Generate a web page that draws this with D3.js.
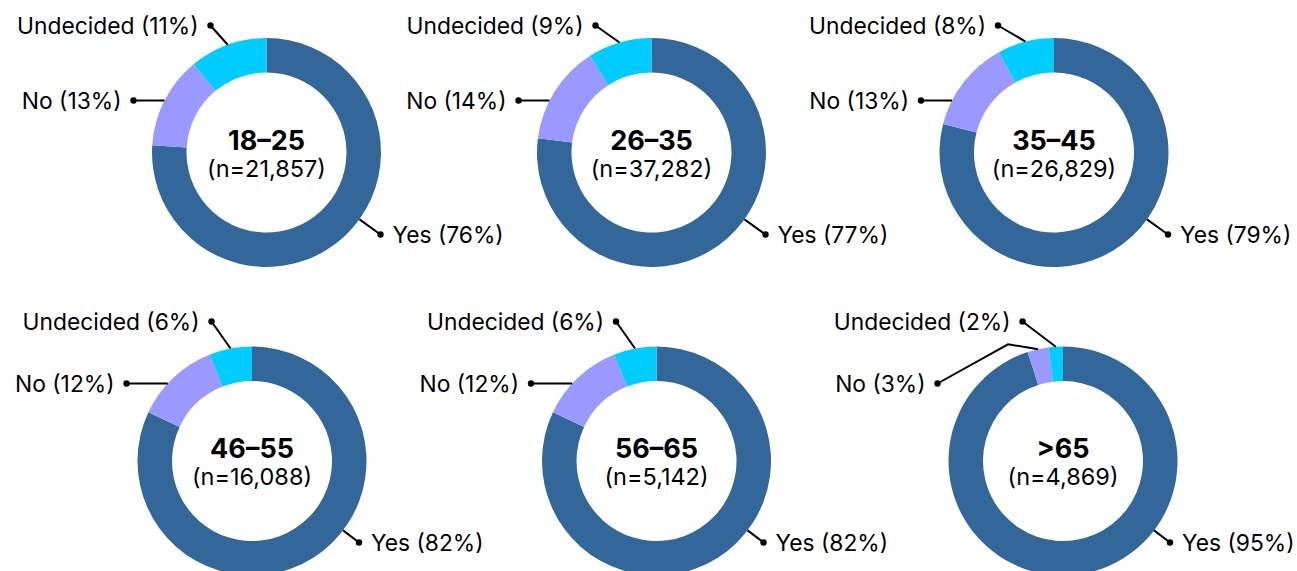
<!DOCTYPE html>
<html>
<head>
<meta charset="utf-8">
<script src="https://cdn.jsdelivr.net/npm/d3@7"></script>
<style>
  html, body { margin: 0; padding: 0; background: #fff; }
  svg { display: block; font-family: Inter, "Noto Sans", sans-serif; }
</style>
</head>
<body>
<script>
// survey answers by age group
const ageGroups = ["18–25", "26–35", "35–45", "46–55", "56–65", ">65"];
const sampleSizes = [21857, 37282, 26829, 16088, 5142, 4869];
const answers = ["Yes", "No", "Undecided"];
const yesShare = [76, 77, 79, 82, 82, 95];
const noShare = [13, 14, 13, 12, 12, 3];
const undecidedShare = [11, 9, 8, 6, 6, 2];
const answerColors = ["#336699", "#9999ff", "#00ccff"];

document.addEventListener("DOMContentLoaded", function () {
    const width = 1297;
    const height = 571;
    const outerR = 114.5;
    const innerR = 80;

    // where each donut sits
    const centerX = [266.5, 651.5, 1054, 252, 656.5, 1063];
    const rowY = [152.5, 461];
    // label dot offsets from the centre, per row
    const labelSpots = [
        { Yes: [114, 82], No: [-133, -52], Undecided: [-56, -127] },
        { Yes: [107, 81.5], No: [-125.5, -77.5], Undecided: [-40.5, -139.5] }
    ];

    const color = d3.scaleOrdinal().domain(answers).range(answerColors);
    const fmt = d3.format(",");

    const pie = d3.pie()
        .sort(null)
        .value(d => d.value);

    const arc = d3.arc()
        .innerRadius(innerR)
        .outerRadius(outerR);

    const svg = d3.select("body").append("svg")
        .attr("width", width)
        .attr("height", height)
        .attr("viewBox", `0 0 ${width} ${height}`);

    const charts = ageGroups.map((g, i) => ({
        group: g,
        n: sampleSizes[i],
        row: i < 3 ? 0 : 1,
        x: centerX[i],
        values: [
            { answer: "Yes", value: yesShare[i] },
            { answer: "No", value: noShare[i] },
            { answer: "Undecided", value: undecidedShare[i] }
        ]
    }));

    // where the leader line touches the ring
    const anchorFor = (slice, dot, side) => {
        const [dx, dy] = dot;
        if (side === "right") {
            const k = outerR / Math.hypot(dx, dy);
            return [[dx * k, dy * k]];
        }
        if (Math.abs(dy) < outerR) {
            const hx = -Math.sqrt(outerR * outerR - dy * dy);
            let a = Math.atan2(hx, -dy);
            if (a < 0) a += 2 * Math.PI;
            if (a >= slice.startAngle && a <= slice.endAngle) return [[hx, dy]];
        }
        const mid = (slice.startAngle + slice.endAngle) / 2;
        const ax = outerR * Math.sin(mid);
        const ay = -outerR * Math.cos(mid);
        if (dy > ay) return [[ax - 30, ay - 5], [ax, ay]];
        return [[ax, ay]];
    };

    const chartG = svg.selectAll(".donut")
        .data(charts)
        .enter()
        .append("g")
        .attr("class", "donut")
        .attr("transform", d => `translate(${d.x},${rowY[d.row]})`);

    chartG.each(function (c) {
        const g = d3.select(this);
        const slices = pie(c.values);

        g.selectAll("path.slice")
            .data(slices)
            .enter()
            .append("path")
            .attr("class", "slice")
            .attr("d", arc)
            .attr("fill", d => color(d.data.answer));

        slices.forEach(s => {
            const dot = labelSpots[c.row][s.data.answer];
            const side = dot[0] > 0 ? "right" : "left";
            const pts = [dot].concat(anchorFor(s, dot, side));

            g.append("path")
                .attr("d", d3.line()(pts))
                .attr("fill", "none")
                .attr("stroke", "#000")
                .attr("stroke-width", 2);

            g.append("circle")
                .attr("cx", dot[0])
                .attr("cy", dot[1])
                .attr("r", 3.2)
                .attr("fill", "#000");

            g.append("text")
                .attr("x", side === "right" ? dot[0] + 12 : dot[0] - 12)
                .attr("y", dot[1])
                .attr("dy", "0.36em")
                .attr("text-anchor", side === "right" ? "start" : "end")
                .attr("font-size", 22.8)
                .attr("fill", "#000")
                .text(`${s.data.answer} (${s.data.value}%)`);
        });

        g.append("text")
            .attr("y", -3)
            .attr("text-anchor", "middle")
            .attr("font-size", 27)
            .attr("font-weight", 700)
            .attr("fill", "#000")
            .text(c.group);

        g.append("text")
            .attr("y", 24)
            .attr("text-anchor", "middle")
            .attr("font-size", 23.5)
            .attr("fill", "#000")
            .text(`(n=${fmt(c.n)})`);
    });
});
</script>
</body>
</html>
